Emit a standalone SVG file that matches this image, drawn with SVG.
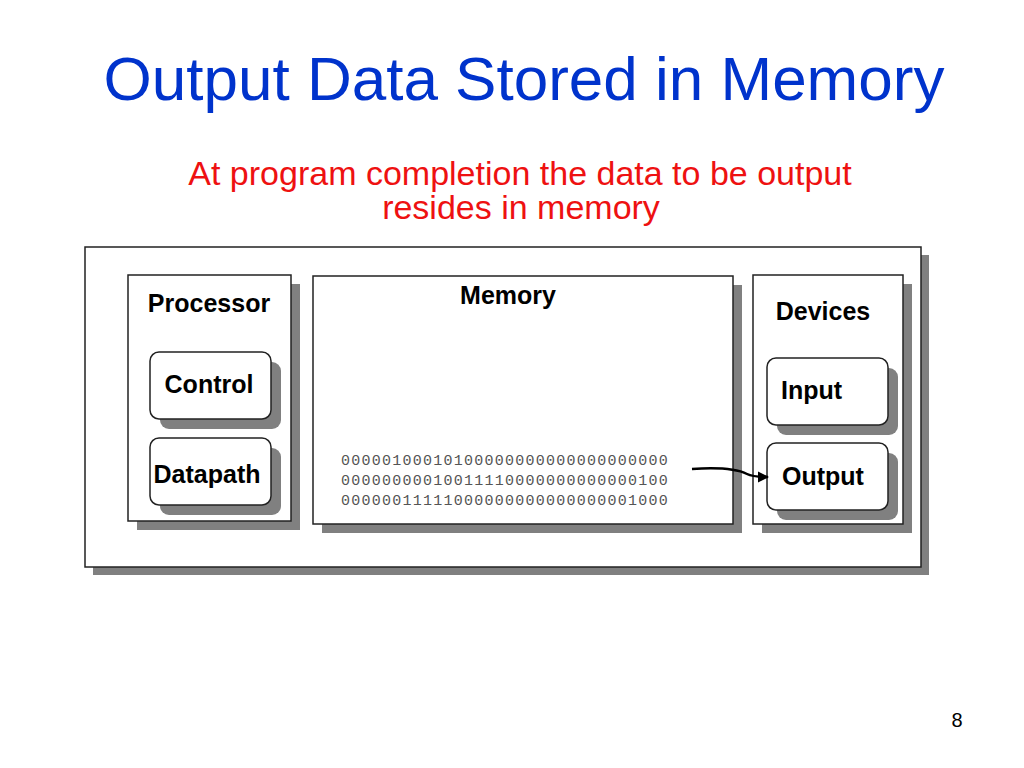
<svg xmlns="http://www.w3.org/2000/svg" width="1024" height="768" viewBox="0 0 1024 768">
<defs>
<style>
.shadow{fill:#808080;}
.box{fill:#ffffff;stroke:#222222;stroke-width:1.5;}
.lbl{font-family:"Liberation Sans",Arial,sans-serif;font-weight:bold;font-size:25px;fill:#000;}
.bits{font-family:"Liberation Mono","Courier New",monospace;font-size:15px;fill:#555;letter-spacing:1.25px;}
.conn{fill:none;stroke:#000;stroke-width:2.5;}
</style>
<marker id="arr" viewBox="0 0 10 10" refX="9" refY="5" markerWidth="4.5" markerHeight="4.5" orient="auto" markerUnits="strokeWidth">
<path d="M0,0 L10,5 L0,10 z" fill="#000"/>
</marker>
</defs>
<rect width="1024" height="768" fill="#ffffff"/>
<text x="524" y="100" text-anchor="middle" font-family="Liberation Sans,Arial,sans-serif" font-size="62" fill="#0033cc">Output Data Stored in Memory</text>
<text x="520" y="185" text-anchor="middle" font-family="Liberation Sans,Arial,sans-serif" font-size="34" fill="#ee1111">At program completion the data to be output</text>
<text x="521" y="219" text-anchor="middle" font-family="Liberation Sans,Arial,sans-serif" font-size="34" fill="#ee1111">resides in memory</text>
<text x="957" y="727" text-anchor="middle" font-family="Liberation Sans,Arial,sans-serif" font-size="20" fill="#000">8</text>

<g id="computer">
<rect class="shadow" x="93" y="255" width="836" height="320"/>
<rect class="box" x="85" y="247" width="836" height="320"/>
</g>
<g id="processor">
<rect class="shadow" x="137" y="284" width="163" height="246"/>
<rect class="box" x="128" y="275" width="163" height="246"/>
<text class="lbl" x="209" y="312" text-anchor="middle">Processor</text>
</g>
<g id="control">
<rect class="shadow" x="160" y="362" width="121" height="67" rx="9"/>
<rect class="box" x="150" y="352" width="121" height="67" rx="9"/>
<text class="lbl" x="209" y="393" text-anchor="middle">Control</text>
</g>
<g id="datapath">
<rect class="shadow" x="160" y="448" width="121" height="67" rx="9"/>
<rect class="box" x="150" y="438" width="121" height="67" rx="9"/>
<text class="lbl" x="207" y="483" text-anchor="middle">Datapath</text>
</g>
<g id="memory">
<rect class="shadow" x="322" y="285" width="420" height="248"/>
<rect class="box" x="313" y="276" width="420" height="248"/>
<text class="lbl" x="508" y="304" text-anchor="middle">Memory</text>
<text class="bits" x="341" y="465">00000100010100000000000000000000</text>
<text class="bits" x="341" y="485">00000000010011110000000000000100</text>
<text class="bits" x="341" y="505">00000011111000000000000000001000</text>
</g>
<g id="devices">
<rect class="shadow" x="762" y="284" width="150" height="249"/>
<rect class="box" x="753" y="275" width="150" height="249"/>
<text class="lbl" x="823" y="320" text-anchor="middle">Devices</text>
</g>
<g id="input">
<rect class="shadow" x="777" y="368" width="121" height="67" rx="9"/>
<rect class="box" x="767" y="358" width="121" height="67" rx="9"/>
<text class="lbl" x="781" y="399">Input</text>
</g>
<g id="output">
<rect class="shadow" x="777" y="453" width="121" height="67" rx="9"/>
<rect class="box" x="767" y="443" width="121" height="67" rx="9"/>
<text class="lbl" x="782" y="485">Output</text>
</g>
<g id="connectors">
<path class="conn" d="M692,469 C722,467 737,469 747,474 C753,477 760,477 768,477" marker-end="url(#arr)"/>
</g>
</svg>
